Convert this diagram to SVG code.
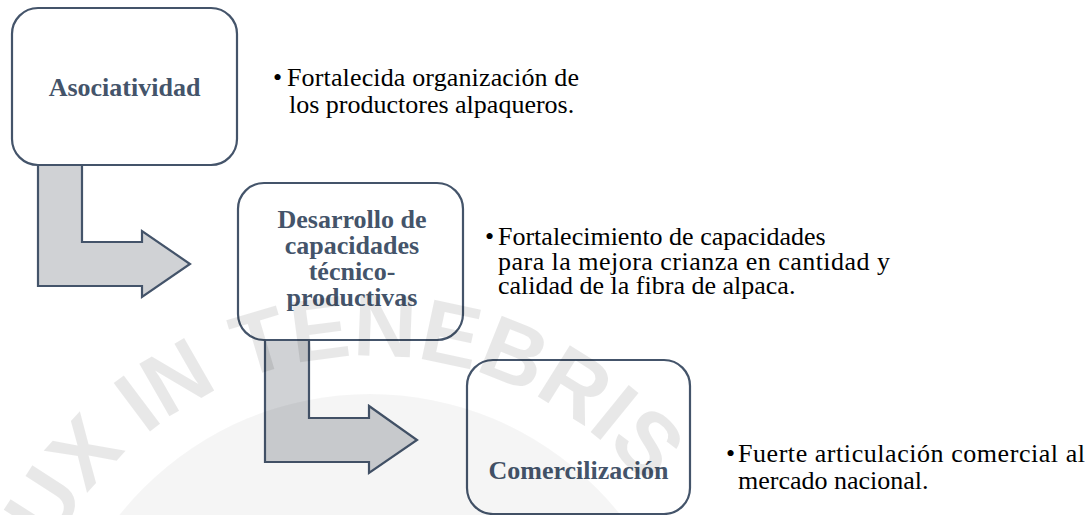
<svg xmlns="http://www.w3.org/2000/svg" width="1091" height="515" viewBox="0 0 1091 515">
<defs>
<style>
.box{fill:#ffffff;stroke:#44546a;stroke-width:2.2}
.arrow{fill:#d0d2d5;stroke:#44546a;stroke-width:2.2;stroke-linejoin:miter}
.lbl{font-family:"Liberation Serif","Times New Roman",serif;font-weight:bold;font-size:26px;fill:#44546a;text-anchor:middle}
.txt{font-family:"Liberation Serif","Times New Roman",serif;font-size:26px;fill:#000000}
.wm{font-family:"Liberation Sans",Arial,sans-serif;font-weight:bold;font-size:88px;fill:#000000;fill-opacity:0.09}
</style>
<path id="arc" d="M 12,714 A 358,358 0 0 1 728,714"/>
</defs>
<rect width="1091" height="515" fill="#ffffff"/>
<g id="connectors">
<path class="arrow" d="M38,165 L82,165 L82,242 L142,242 L142,231 L190,264 L142,297 L142,286 L38,286 Z"/>
<path class="arrow" d="M265,340 L309,340 L309,418 L369,418 L369,406 L417,440 L369,473 L369,462 L265,462 Z"/>
</g>
<g id="node-asociatividad">
<rect class="box" x="12" y="8" width="225" height="157" rx="26"/>
<text class="lbl" x="124.5" y="96">Asociatividad</text>
</g>
<g id="node-desarrollo">
<rect class="box" x="238" y="183" width="225" height="157" rx="26"/>
<text class="lbl" x="352" y="228">Desarrollo de</text>
<text class="lbl" x="352" y="254">capacidades</text>
<text class="lbl" x="352" y="280">técnico-</text>
<text class="lbl" x="352" y="306">productivas</text>
</g>
<g id="node-comercializacion">
<rect class="box" x="467" y="360" width="223" height="154" rx="26"/>
<text class="lbl" x="578.5" y="479">Comercilización</text>
</g>
<g id="desc-1">
<text class="txt" x="273" y="86">•</text>
<text class="txt" x="287" y="86" textLength="292">Fortalecida organización de</text>
<text class="txt" x="289" y="113">los productores alpaqueros.</text>
</g>
<g id="desc-2">
<text class="txt" x="485" y="245">•</text>
<text class="txt" x="498" y="245">Fortalecimiento de capacidades</text>
<text class="txt" x="498" y="269.5" textLength="392">para la mejora crianza en cantidad y</text>
<text class="txt" x="498" y="294">calidad de la fibra de alpaca.</text>
</g>
<g id="desc-3">
<text class="txt" x="726" y="462">•</text>
<text class="txt" x="738" y="462" textLength="347">Fuerte articulación comercial al</text>
<text class="txt" x="738" y="489">mercado nacional.</text>
</g>
<g id="watermark">
<circle cx="370" cy="714" r="320" fill="#000000" fill-opacity="0.04"/>
<text class="wm"><textPath href="#arc" startOffset="44.3%" text-anchor="middle">LUX IN TENEBRIS</textPath></text>
</g>
</svg>
